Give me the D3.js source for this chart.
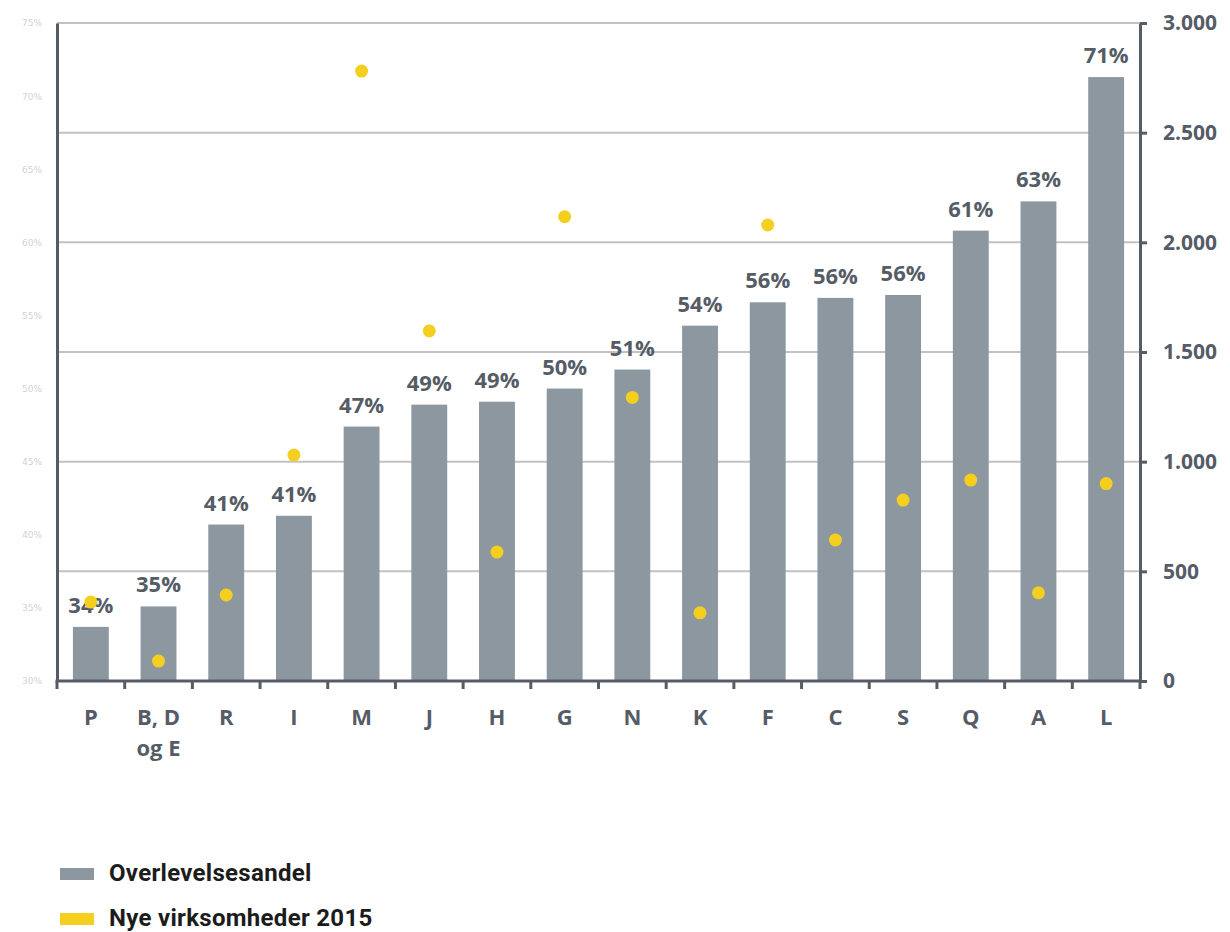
<!DOCTYPE html>
<html>
<head>
<meta charset="utf-8">
<script src="https://cdn.jsdelivr.net/npm/d3@7"></script>
<style>
  html, body { margin: 0; padding: 0; background: #fff; }
  svg { display: block; }
</style>
</head>
<body>
<svg id="chart" width="1230" height="932"></svg>
<script>
// ---- data ----
const categories = ["P", "B, D og E", "R", "I", "M", "J", "H", "G", "N", "K", "F", "C", "S", "Q", "A", "L"];
const survivalShare = [33.7, 35.1, 40.7, 41.3, 47.4, 48.9, 49.1, 50.0, 51.3, 54.3, 55.9, 56.2, 56.4, 60.8, 62.8, 71.3];
const newFirms2015 = [360, 91, 392, 1030, 2781, 1596, 588, 2117, 1293, 311, 2079, 643, 825, 916, 402, 900];
const leftTicks = [30, 35, 40, 45, 50, 55, 60, 65, 70, 75];
const rightTicks = [0, 500, 1000, 1500, 2000, 2500, 3000];
const seriesNames = ["Overlevelsesandel", "Nye virksomheder 2015"];

// ---- layout ----
const svg = d3.select("#chart");
const pLeft = 57, pRight = 1140, pTop = 23, pBottom = 681;
const barColor = "#8c979f", dotColor = "#f5cf1f", axisColor = "#565c66", textColor = "#555c66";

const x = d3.scaleBand().domain(categories).range([pLeft, pRight]).paddingInner(0.47).paddingOuter(0.235);
const xb = d3.scaleBand().domain(categories).range([pLeft, pRight]);
const yL = d3.scaleLinear().domain([30, 75]).range([pBottom, pTop]);
const yR = d3.scaleLinear().domain([0, 3000]).range([pBottom, pTop]);

const da = d3.formatLocale({decimal: ",", thousands: ".", grouping: [3], currency: ["", " kr"]});
const fmtR = da.format(",.0f");

// gridlines
svg.append("g").selectAll("line").data(rightTicks.filter(d => d > 0)).join("line")
  .attr("x1", pLeft).attr("x2", pRight)
  .attr("y1", d => yR(d)).attr("y2", d => yR(d))
  .attr("stroke", "#c2c2c2").attr("stroke-width", 2);

// bars
svg.append("g").selectAll("rect").data(categories).join("rect")
  .attr("x", d => x(d)).attr("width", x.bandwidth())
  .attr("y", (d, i) => yL(survivalShare[i]))
  .attr("height", (d, i) => pBottom - yL(survivalShare[i]))
  .attr("fill", barColor);

// bar labels
svg.append("g").selectAll("text").data(categories).join("text")
  .attr("x", d => x(d) + x.bandwidth() / 2)
  .attr("y", (d, i) => yL(survivalShare[i]) - 14)
  .attr("text-anchor", "middle")
  .attr("font-family", "Open Sans, sans-serif").attr("font-weight", 700).attr("font-size", 22)
  .attr("fill", textColor)
  .text((d, i) => Math.round(survivalShare[i]) + "%");

// dots
svg.append("g").selectAll("circle").data(categories).join("circle")
  .attr("cx", d => x(d) + x.bandwidth() / 2)
  .attr("cy", (d, i) => yR(newFirms2015[i]))
  .attr("r", 6.5)
  .attr("fill", dotColor);

// left axis
const gL = svg.append("g").attr("transform", `translate(${pLeft},0)`)
  .call(d3.axisLeft(yL).tickValues(leftTicks).tickSize(0).tickPadding(15).tickFormat(d => d + "%"));
gL.select(".domain").attr("stroke", axisColor).attr("stroke-width", 3);
gL.selectAll("text").attr("font-family", "DejaVu Sans, sans-serif").attr("font-size", 9)
  .attr("fill", "#d2d2d2");

// right axis
const gR = svg.append("g").attr("transform", `translate(${pRight},0)`)
  .call(d3.axisRight(yR).tickValues(rightTicks).tickSizeInner(7).tickSizeOuter(0).tickPadding(16).tickFormat(fmtR));
gR.select(".domain").attr("stroke", axisColor).attr("stroke-width", 3);
gR.selectAll(".tick line").attr("stroke", axisColor).attr("stroke-width", 3);
gR.selectAll("text").attr("font-family", "Open Sans, sans-serif").attr("font-weight", 700)
  .attr("font-size", 21).attr("fill", textColor);

// bottom axis line
svg.append("line").attr("x1", pLeft - 1.5).attr("x2", pRight + 1.5).attr("y1", pBottom).attr("y2", pBottom)
  .attr("stroke", axisColor).attr("stroke-width", 3);
// bottom ticks at band boundaries
const bounds = categories.map(d => xb(d)).concat([pRight]);
svg.append("g").selectAll("line").data(bounds).join("line")
  .attr("x1", d => d).attr("x2", d => d).attr("y1", pBottom).attr("y2", pBottom + 8)
  .attr("stroke", axisColor).attr("stroke-width", 3);

// category labels
const cl = svg.append("g").selectAll("text").data(categories).join("text")
  .attr("x", d => x(d) + x.bandwidth() / 2)
  .attr("y", 725)
  .attr("text-anchor", "middle")
  .attr("font-family", "Open Sans, sans-serif").attr("font-weight", 700).attr("font-size", 22)
  .attr("fill", textColor);
cl.each(function(d) {
  const parts = d === "B, D og E" ? ["B, D", "og E"] : [d];
  const t = d3.select(this);
  parts.forEach((p, j) => t.append("tspan").attr("x", x(d) + x.bandwidth() / 2).attr("dy", j === 0 ? 0 : 31).text(p));
});

// legend
const legColors = [barColor, dotColor];
const leg = svg.append("g").selectAll("g").data(seriesNames).join("g")
  .attr("transform", (d, i) => `translate(60, ${868 + i * 45})`);
leg.append("rect").attr("width", 34).attr("height", 12).attr("fill", (d, i) => legColors[i]);
leg.append("text").attr("x", 49).attr("y", 13)
  .attr("font-family", "Roboto, sans-serif").attr("font-weight", 700).attr("font-size", 24)
  .attr("letter-spacing", 0.3)
  .attr("fill", "#1c1c1c").text(d => d);
</script>
</body>
</html>
